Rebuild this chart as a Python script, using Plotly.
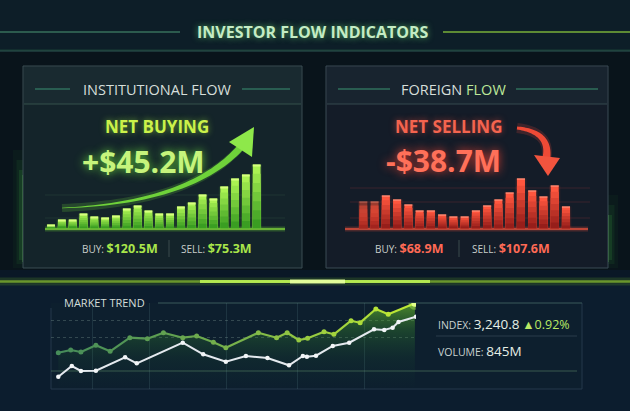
import numpy as np
import plotly.graph_objects as go

W, H = 630, 411

# ---------------- data ----------------
inst_flow = [4, 9, 9, 15, 12, 11, 13, 20, 23, 18, 15, 15, 22, 26, 34, 30, 42, 50, 54, 64]
foreign_flow = [27, 27, 33, 29, 24, 18, 18, 14, 12, 12, 18, 23, 29, 36, 50, 38, 32, 43, 22]

sector_t = [2.0, 5.4, 8.2, 12.3, 16.2, 21.6, 26.4, 30.8, 36.1, 39.9, 44.5, 47.9,
            56.8, 61.8, 64.7, 67.9, 70.3, 74.8, 77.5, 82.2, 84.7, 89.0, 92.4, 99.7]
sector_v = [36.3, 39, 37, 43.7, 37.7, 51.3, 50.3, 56.3, 51.3, 53, 46.7, 41.3,
            56.3, 51.3, 56.3, 49, 50.7, 57.3, 54.7, 68.3, 66.3, 80, 74.7, 85.7]
index_t = [2.0, 5.7, 8.2, 12.3, 20.3, 23.5, 36.1, 41.7, 47.9, 53.4, 59.3, 65.2,
           69.0, 70.1, 72.6, 77.2, 81.7, 88.5, 91.3, 93.6, 95.2, 100]
index_v = [12.3, 23, 18, 18.3, 31.7, 25.7, 46.3, 34.7, 27.3, 33, 31, 23.7,
           33, 32.3, 33.3, 43, 46.3, 59.7, 59, 61.3, 67, 72.3]
grid_t = [11.5, 27.0, 48.2, 67.4, 85.8, 100]
grid_v = [51.7, 69]

title = "INVESTOR FLOW INDICATORS"
inst_buy, inst_sell, inst_net = "$120.5M", "$75.3M", "+$45.2M"
for_buy, for_sell, for_net = "$68.9M", "$107.6M", "-$38.7M"
index_val, index_chg, volume = "3,240.8", "▲0.92%", "845M"

# ---------------- helpers ----------------
def X(px):
    return px / W

def Y(py):
    return 1 - py / H

def mix(c1, c2, t):
    return "rgb(%d,%d,%d)" % tuple(int(round(a + (b - a) * t)) for a, b in zip(c1, c2))

shapes = []
annos = []

def rect(x0, y0, x1, y1, fill, line=None, lw=0, layer="below"):
    shapes.append(dict(type="rect", xref="paper", yref="paper", x0=X(x0), x1=X(x1),
                       y0=Y(y1), y1=Y(y0), fillcolor=fill, layer=layer,
                       line=dict(color=line or "rgba(0,0,0,0)", width=lw)))

def hline(x0, x1, y, color, width=1, dash="solid", layer="below"):
    shapes.append(dict(type="line", xref="paper", yref="paper", x0=X(x0), x1=X(x1),
                       y0=Y(y), y1=Y(y), line=dict(color=color, width=width, dash=dash), layer=layer))

def vline(x, y0, y1, color, width=1, layer="below"):
    shapes.append(dict(type="line", xref="paper", yref="paper", x0=X(x), x1=X(x),
                       y0=Y(y0), y1=Y(y1), line=dict(color=color, width=width), layer=layer))

def path(pts, fill=None, line=None, lw=0, close=True, layer="above"):
    d = "M " + " L ".join("%.5f,%.5f" % (X(px), Y(py)) for px, py in pts)
    if close:
        d += " Z"
    shapes.append(dict(type="path", xref="paper", yref="paper", path=d, layer=layer,
                       fillcolor=fill or "rgba(0,0,0,0)",
                       line=dict(color=line or "rgba(0,0,0,0)", width=lw)))

def text(x, y, s, size, color, weight=400, anchor="center", shadow=None, family="Open Sans"):
    f = dict(family=family, size=size, color=color, weight=weight)
    if shadow:
        f["shadow"] = shadow
    annos.append(dict(x=X(x), y=Y(y), xref="paper", yref="paper", text=s, showarrow=False,
                      xanchor=anchor, yanchor="middle", font=f))

def swoosh(p0, c, p1, w0, w1, n=40):
    p0, c, p1 = map(np.array, (p0, c, p1))
    t = np.linspace(0, 1, n)[:, None]
    pts = (1 - t) ** 2 * p0 + 2 * (1 - t) * t * c + t ** 2 * p1
    der = 2 * (1 - t) * (c - p0) + 2 * t * (p1 - c)
    nrm = np.stack([-der[:, 1], der[:, 0]], axis=1)
    nrm /= np.linalg.norm(nrm, axis=1, keepdims=True)
    w = (w0 + (w1 - w0) * t) / 2
    up = pts + nrm * w
    lo = pts - nrm * w
    return [tuple(p) for p in up] + [tuple(p) for p in lo[::-1]], [tuple(p) for p in pts]

# ---------------- background ----------------
rect(0, 0, 630, 52, "#0d1e28")
rect(0, 52, 630, 270, "#09141b")
rect(0, 270, 630, 411, "#0a1826")
rect(0, 284, 630, 411, "#0c1d2e")
hline(0, 630, 51, "#233540", 1.2)
# soft side glows
for i, (w, a) in enumerate([(16, 0.04), (9, 0.07), (4, 0.12)]):
    vline(21, 150 + i * 10, 268 - i * 4, "rgba(70,210,70,%.2f)" % a, w)
    vline(610, 195 + i * 10, 268 - i * 4, "rgba(70,210,70,%.2f)" % a, w)
vline(23, 175, 262, "rgba(110,230,80,0.45)", 1.5)
vline(608, 215, 262, "rgba(110,230,80,0.45)", 1.5)

# title lines
hline(0, 180, 32, "rgba(70,140,110,0.75)", 1.3)
hline(443, 630, 32, "rgba(140,200,60,0.85)", 1.5)
hline(0, 630, 50.5, "rgba(60,150,90,0.25)", 2)
text(313, 32, title, 16, "#c4ecc4", 700, shadow="0 0 6px rgba(110,230,120,0.7)")

# ---------------- panels ----------------
rect(23, 66, 302, 268, "rgba(20,36,42,1)", "#3b4d52", 1)
rect(24, 67, 301, 104, "rgba(25,42,48,1)")
hline(24, 301, 104, "#34504a", 1.2)
hline(35, 70, 89, "#2f6f5c", 1.5)
hline(242, 290, 89, "#2f6f5c", 1.5)
text(157, 89, "INSTITUTIONAL FLOW", 14.5, "#d6dfda")

rect(326, 66, 608, 268, "rgba(20,28,40,1)", "#3a4a54", 1)
rect(327, 67, 607, 104, "rgba(24,36,47,1)")
hline(327, 607, 104, "#34484e", 1.2)
hline(338, 390, 89, "#2f6f5c", 1.5)
hline(516, 598, 89, "#2f6f5c", 1.5)
text(453, 89, "FOREIGN <span style='color:#bde89a'>FLOW</span>", 14.5, "#d6dfda")

# faint chart gridlines inside panels
for yy in (195, 218):
    hline(45, 285, yy, "rgba(80,140,90,0.18)", 1)
for yy in (188, 202, 218):
    hline(350, 590, yy, "rgba(170,60,60,0.25)", 1)

# baselines with glow
hline(45, 285, 229, "rgba(120,230,60,0.25)", 5)
hline(45, 285, 229, "#7fd23a", 1.3)
hline(345, 588, 229, "rgba(240,80,60,0.25)", 5)
hline(345, 588, 229, "#e0503c", 1.3)

# headline texts
text(157, 127, "NET BUYING", 17, "#cbf24a", 700, shadow="0 0 6px rgba(160,240,60,0.6)")
text(143, 161, inst_net, 30, "#c6f47c", 700, shadow="0 0 10px rgba(110,230,60,0.9)")
text(448, 127, "NET SELLING", 17, "#f4644f", 700, shadow="0 0 6px rgba(255,80,60,0.6)")
text(443, 160, for_net, 30, "#ff7059", 700, shadow="0 0 10px rgba(255,70,50,0.85)")

# arrows
poly, cl = swoosh((62, 208), (190, 203), (240, 148), 0.6, 7)
path(cl, line="rgba(120,240,60,0.18)", lw=8, close=False)
path(poly, fill="#6fd23a")
path([(254, 127), (229, 142), (252, 157)], fill="#8ee84a")

poly, cl = swoosh((517, 128), (552, 132), (546, 160), 3, 8)
path(cl, line="rgba(255,80,60,0.18)", lw=10, close=False)
path(poly, fill="#ee4a36")
path([(548, 176), (534, 155), (560, 158)], fill="#f2543e")

# buy / sell rows
text(120, 248, "BUY: <span style='font-size:12.5px;color:#a9e64a'><b>%s</b></span>" % inst_buy, 10, "#c9cfcb")
vline(169, 240, 257, "#3b4a4c", 1)
text(216, 248, "SELL: <span style='font-size:12.5px;color:#a9e64a'><b>%s</b></span>" % inst_sell, 10, "#c9cfcb")
text(409, 248, "BUY: <span style='font-size:12.5px;color:#ff6a55'><b>%s</b></span>" % for_buy, 10, "#c9cfcb")
vline(459, 240, 257, "#3b4a4c", 1)
text(511, 248, "SELL: <span style='font-size:12.5px;color:#ff6a55'><b>%s</b></span>" % for_sell, 10, "#c9cfcb")

# ---------------- bottom section ----------------
hline(0, 630, 281.5, "rgba(140,230,40,0.15)", 8)
hline(0, 630, 281.5, "rgba(170,230,50,0.55)", 2.5)
hline(200, 430, 281.5, "rgba(200,255,90,0.8)", 3)
hline(290, 345, 281.5, "rgba(230,255,160,0.9)", 4)

rect(51, 303, 582, 389, "rgba(13,32,47,0.9)", None, 0)
vline(51, 308, 389, "#24394a", 1)
hline(51, 582, 389, "#24394a", 1)
vline(582, 303, 389, "#24394a", 1)
hline(158, 582, 303, "#3a5a5a", 1.2)
hline(51, 577, 371, "rgba(110,160,120,0.45)", 1.2)
text(62, 302, "MARKET TREND", 11, "#d3ded9", 400, anchor="left")

text(436, 324, "INDEX: <span style='font-size:13.5px;color:#e6efe6'>%s</span> "
     "<span style='font-size:12.5px;color:#b9e865'>%s</span>" % (index_val, index_chg),
     10.5, "#c9d2d0", anchor="left")
hline(436, 577, 336, "#2a3c4a", 1)
text(436, 351, "VOLUME: <span style='font-size:13.5px;color:#e6efe6'>%s</span>" % volume,
     10.5, "#c9d2d0", anchor="left")

# ---------------- traces ----------------
fig = go.Figure()
K = 7

# institutional bars: vertical gradient from overlaid bars of decreasing height
n_inst = len(inst_flow)
xi = list(range(n_inst))
fig.add_trace(go.Bar(x=xi, y=inst_flow, width=1.0, marker=dict(color="rgba(120,230,60,0.10)", line_width=0),
                     xaxis="x", yaxis="y", hoverinfo="skip"))
dark, light = (58, 158, 34), (170, 242, 82)
for k in range(K):
    frac = (K - k) / K
    fig.add_trace(go.Bar(x=xi, y=[v * frac for v in inst_flow], width=0.72,
                         marker=dict(color=mix(light, dark, k / (K - 1)), line_width=0),
                         xaxis="x", yaxis="y", hoverinfo="skip"))
fig.add_trace(go.Bar(x=xi, y=[1.2] * n_inst, base=[v - 1.2 for v in inst_flow], width=0.72,
                     marker=dict(color="#d8ff80", line_width=0), xaxis="x", yaxis="y", hoverinfo="skip"))

# foreign bars
n_for = len(foreign_flow)
xf = list(range(n_for))
fade = [0.5, 0.6] + [1.0] * (n_for - 2)
fig.add_trace(go.Bar(x=xf, y=foreign_flow, width=1.0, marker=dict(color="rgba(255,80,60,0.10)", line_width=0),
                     xaxis="x2", yaxis="y2", hoverinfo="skip"))
rdark, rlight = (150, 30, 26), (255, 86, 62)
fig.add_trace(go.Bar(x=xf, y=foreign_flow, width=0.72, marker=dict(color="#09141b", line_width=0),
                     xaxis="x2", yaxis="y2", hoverinfo="skip"))
for k in range(K):
    frac = (K - k) / K
    fig.add_trace(go.Bar(x=xf, y=[v * frac for v in foreign_flow], width=0.72,
                         marker=dict(color=mix(rlight, rdark, k / (K - 1)), opacity=fade, line_width=0),
                         xaxis="x2", yaxis="y2", hoverinfo="skip"))
fig.add_trace(go.Bar(x=xf, y=[1.0] * n_for, base=[v - 1.0 for v in foreign_flow], width=0.72,
                     marker=dict(color="#ffa08a", opacity=fade, line_width=0), xaxis="x2", yaxis="y2",
                     hoverinfo="skip"))

# market trend: fill under sector line (vertical fade)
fig.add_trace(go.Scatter(x=sector_t, y=sector_v, mode="lines", line=dict(width=0), fill="tozeroy",
                         fillgradient=dict(type="vertical",
                                           colorscale=[[0, "rgba(30,100,60,0.0)"], [0.35, "rgba(40,120,50,0.10)"],
                                                       [0.7, "rgba(70,170,45,0.28)"],
                                                       [1, "rgba(130,225,40,0.55)"]]),
                         xaxis="x3", yaxis="y3", hoverinfo="skip"))
# sector line with colour gradient
cA, cB = (70, 140, 90), (200, 240, 50)
nS = len(sector_t)
for i in range(nS - 1):
    col = mix(cA, cB, (sector_t[i] / 100) ** 1.3)
    fig.add_trace(go.Scatter(x=sector_t[i:i + 2], y=sector_v[i:i + 2], mode="lines",
                             line=dict(color=col, width=2.2), xaxis="x3", yaxis="y3", hoverinfo="skip"))
fig.add_trace(go.Scatter(x=sector_t, y=sector_v, mode="markers",
                         marker=dict(size=5, color=[mix(cA, cB, (t / 100) ** 1.3) for t in sector_t]),
                         xaxis="x3", yaxis="y3", hoverinfo="skip"))
fig.add_trace(go.Scatter(x=[sector_t[-1]], y=[sector_v[-1]], mode="markers",
                         marker=dict(size=13, color="rgba(200,255,90,0.35)"), xaxis="x3", yaxis="y3",
                         hoverinfo="skip"))
fig.add_trace(go.Scatter(x=[sector_t[-1]], y=[sector_v[-1]], mode="markers",
                         marker=dict(size=7, color="#e4ff8a"), xaxis="x3", yaxis="y3", hoverinfo="skip"))
# index line
fig.add_trace(go.Scatter(x=index_t, y=index_v, mode="lines+markers",
                         line=dict(color="#e4e9ee", width=2), marker=dict(size=4.5, color="#f2f5f7"),
                         xaxis="x3", yaxis="y3", hoverinfo="skip"))

hid = dict(visible=False, fixedrange=True)
fig.update_layout(
    width=W, height=H, margin=dict(l=0, r=0, t=0, b=0),
    paper_bgcolor="#09141b", plot_bgcolor="rgba(0,0,0,0)",
    showlegend=False, barmode="overlay",
    xaxis=dict(domain=[45.6 / W, 262.1 / W], range=[-0.5, n_inst - 0.5], **hid),
    yaxis=dict(domain=[1 - 228.6 / H, 1 - 158.6 / H], range=[0, 70], **hid),
    xaxis2=dict(domain=[357.7 / W, 571.6 / W], range=[-0.5, n_for - 0.5], **hid),
    yaxis2=dict(domain=[1 - 228.6 / H, 1 - 158.6 / H], range=[0, 70], **hid),
    xaxis3=dict(domain=[51 / W, 416 / W], range=[0, 100], showticklabels=False, zeroline=False,
                showline=False, tickvals=grid_t, showgrid=True, gridcolor="rgba(120,160,170,0.16)",
                fixedrange=True),
    yaxis3=dict(domain=[1 - 389 / H, 1 - 303 / H], range=[0, 86], showticklabels=False, zeroline=False,
                showline=False, tickvals=grid_v, showgrid=True, gridcolor="rgba(140,170,160,0.3)",
                griddash="dot", fixedrange=True),
    shapes=shapes, annotations=annos,
)

fig.write_html("out.html", config=dict(displayModeBar=False),
               post_script="document.body.style.margin='0';document.body.style.background='#09141b';")
